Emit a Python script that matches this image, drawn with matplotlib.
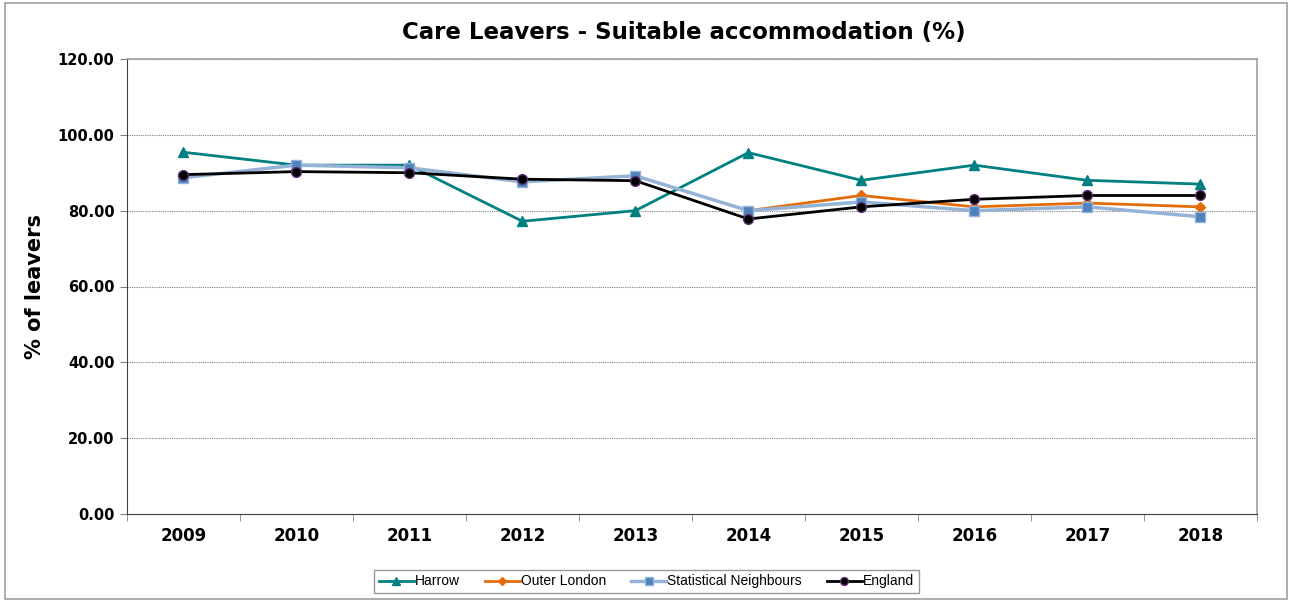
import matplotlib.pyplot as plt
import matplotlib.patches as mpatches
import numpy as np

anios = ["2009", "2010", "2011", "2012", "2013", "2014", "2015", "2016", "2017", "2018"]
harrow = [95.4, 92.0, 92.0, 77.2, 80.0, 95.3, 88.0, 92.0, 88.0, 87.0]
outer_london = [np.nan, np.nan, np.nan, np.nan, np.nan, 80.0, 84.0, 81.0, 82.0, 81.0]
vecinos = [88.7, 92.0, 91.3, 87.6, 89.2, 80.0, 82.3, 80.0, 81.0, 78.4]
england = [89.5, 90.3, 90.0, 88.3, 87.9, 77.8, 81.0, 83.0, 84.0, 84.0]

plt.rcParams['font.family'] = ['DejaVu Sans']

fig = plt.figure(figsize=(12.93, 6), dpi=100)
ax = fig.add_axes([0.0982, 0.1433, 0.8738, 0.7584])

x = np.arange(len(anios))
ax.plot(x, harrow, color="#008080", lw=2, marker="^", ms=7, label="Harrow", zorder=3)
ax.plot(x, outer_london, color="#E36C09", lw=2, marker="D", ms=5, label="Outer London", zorder=4)
ax.plot(x, vecinos, color="#95B3D7", lw=2.5, marker="s", ms=7, mfc="#4F81BD", mec="#95B3D7",
        label="Statistical Neighbours", zorder=4)
ax.plot(x, england, color="black", lw=2, marker="o", ms=7, mec="#5B2C6F", label="England", zorder=5)

ax.set_xlim(-0.5, len(anios) - 0.5)
ax.set_ylim(0, 120)
ax.set_yticks(np.arange(0, 121, 20))
ax.set_yticklabels(["%.2f" % v for v in np.arange(0, 121, 20)], fontsize=10.5, fontweight="bold")
ax.set_xticks(x)
ax.set_xticklabels(anios, fontsize=12, fontweight="bold")
ax.set_xticks(np.arange(-0.5, len(anios)), minor=True)
ax.tick_params(axis="x", which="major", length=0, pad=9)
ax.tick_params(axis="x", which="minor", length=5, color="#808080")
ax.tick_params(axis="y", length=5, color="#808080", pad=4)
ax.grid(axis="y", color="#808080", linestyle=(0, (1, 1)), lw=0.8)
ax.set_axisbelow(True)

for lado in ["left", "bottom"]:
    ax.spines[lado].set_color("#404040")
for lado in ["top", "right"]:
    ax.spines[lado].set_color("#A0A0A0")
    ax.spines[lado].set_linewidth(1.2)

ax.set_ylabel("% of leavers", fontsize=15, fontweight="bold")
ax.yaxis.set_label_coords(-0.0725, 0.5)
fig.text(0.529, 0.945, "Care Leavers - Suitable accommodation (%)", ha="center", va="center",
         fontsize=16.5, fontweight="bold")

leg = fig.legend(loc="center", bbox_to_anchor=(0.5, 0.031), ncol=4, frameon=True,
                 prop={"family": "Liberation Sans", "size": 10},
                 fancybox=False, edgecolor="#808080", handlelength=2.5, handletextpad=0.1,
                 columnspacing=1.8, borderpad=0.35, markerscale=0.8)
leg.get_frame().set_linewidth(1)

fig.patches.append(mpatches.Rectangle((0.004, 0.002), 0.991, 0.993, transform=fig.transFigure,
                                      fill=False, edgecolor="#A0A0A0", lw=1.2))

fig.savefig("out.png", dpi=100)
